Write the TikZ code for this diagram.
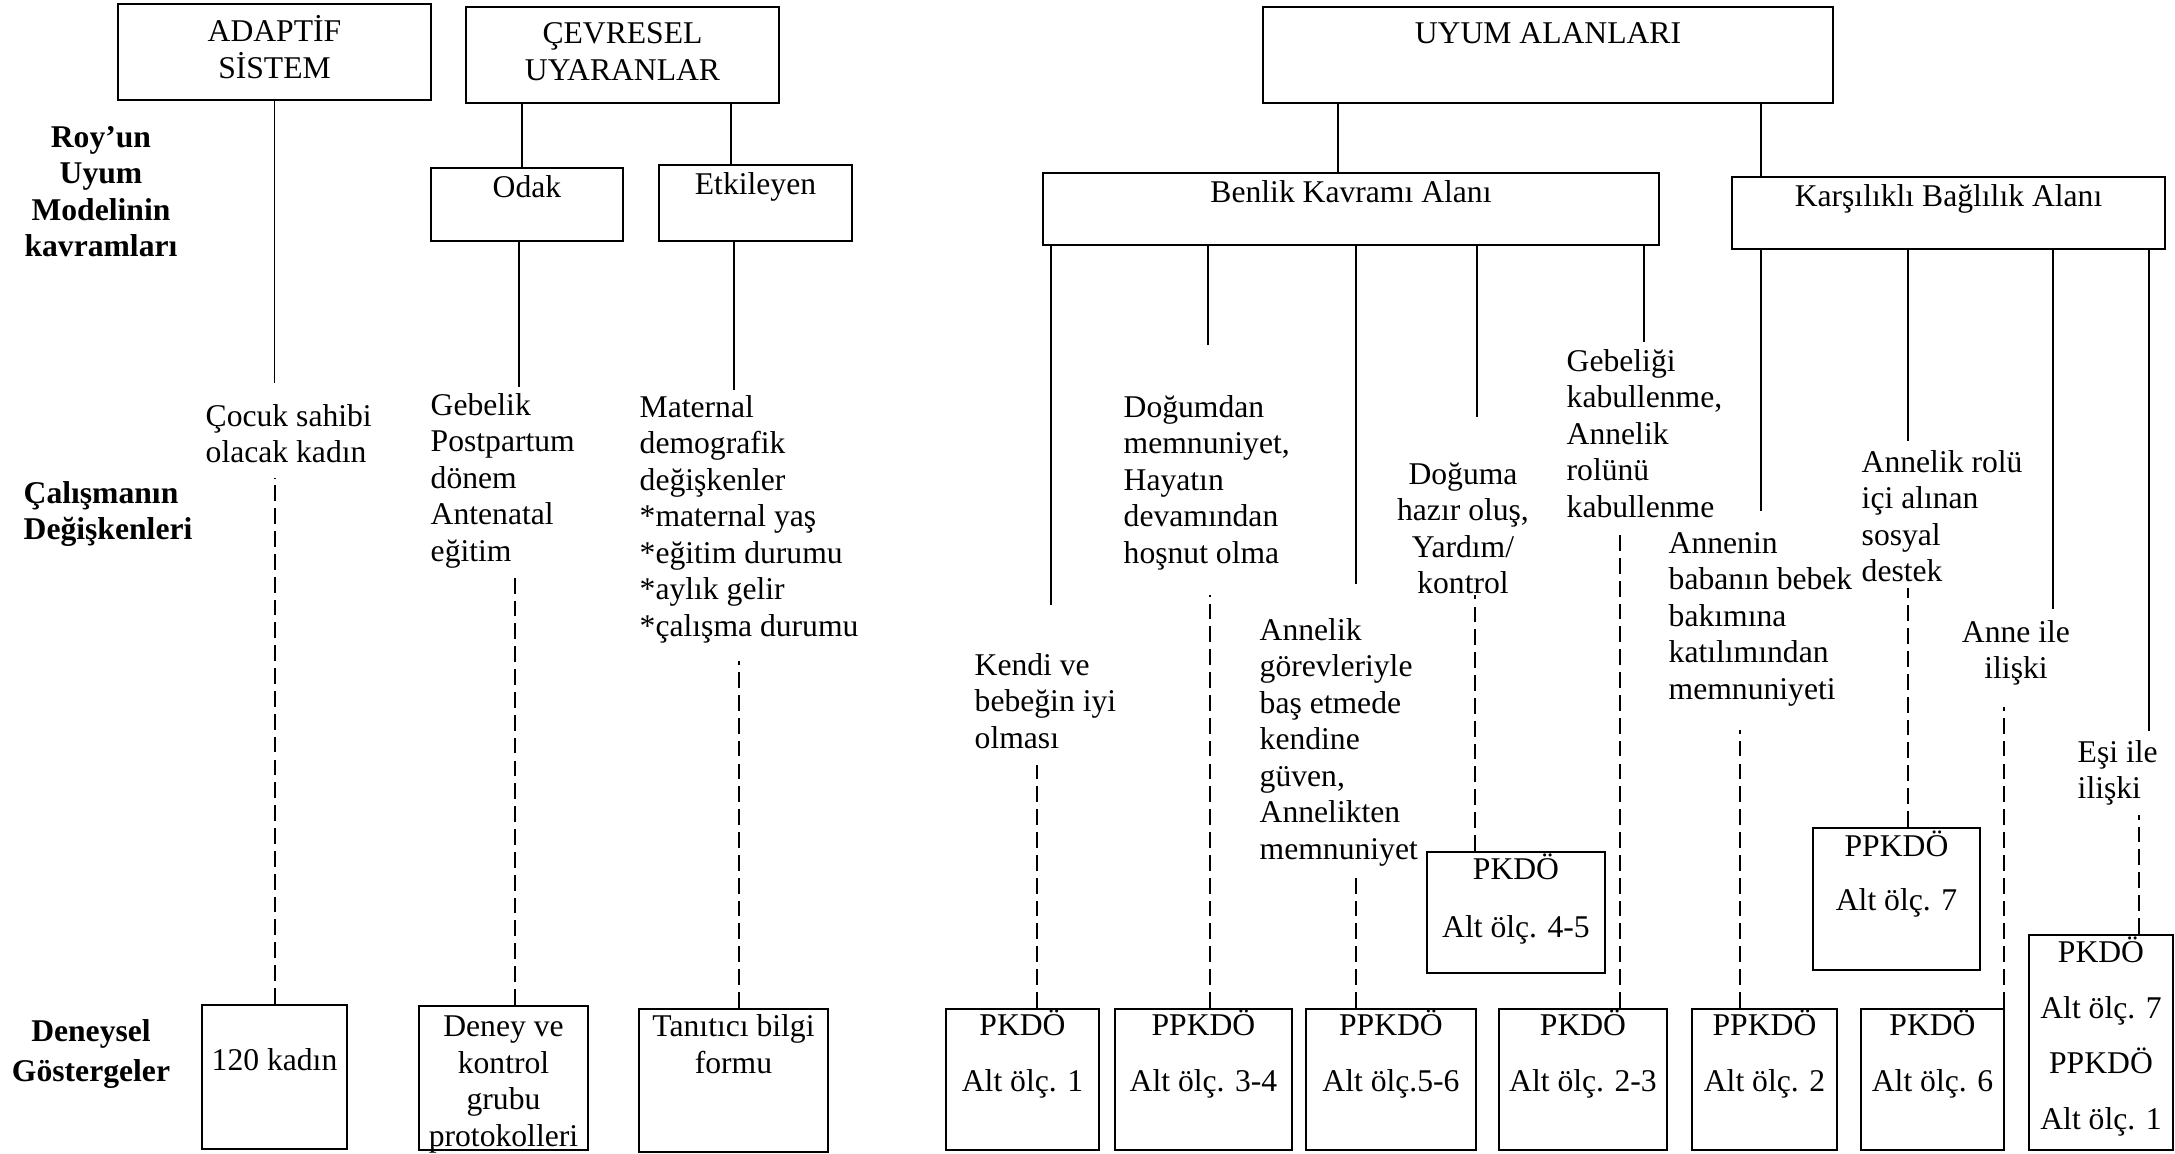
\documentclass[tikz,border=0pt]{standalone}
\usepackage{fontspec}
\setmainfont{Liberation Serif}
\usetikzlibrary{positioning}

\begin{document}
\begin{tikzpicture}[
  box/.style 2 args={draw, line width=0.7pt, inner sep=0pt, minimum width=#1, minimum height=#2},
  txt/.style={inner sep=0pt, align=left, anchor=base west, font=\fontsize{9}{10.4}\selectfont},
  ctxt/.style={txt, align=center, anchor=base},
  head/.style={ctxt, font=\fontsize{9}{10.4}\selectfont\bfseries},
  conn/.style={line width=0.5pt},
  dsh/.style={line width=0.5pt, dash pattern=on 4.5pt off 2pt},
]
\useasboundingbox (0,0) rectangle (21.75,-11.54);

% row titles (base = last line)
\node [head] (roy) at (1.01,-2.567) {Roy’un\\Uyum\\Modelinin\\kavramları};
\node [head, align=left, anchor=base west] (calisma) at (0.23,-5.396) {Çalışmanın\\Değişkenleri};
\node [head] (deneysel) at (0.91,-10.815) {Deneysel\\[1.1pt]Göstergeler};

% model concepts
\node [box={3.13cm}{0.96cm}] (adaptif) at (2.745,-0.52) {};
\node [ctxt] (adaptift) at ([yshift=-0.756cm]adaptif.north) {ADAPTİF\\SİSTEM};
\node [box={3.13cm}{0.96cm}] (cevresel) at (6.225,-0.55) {};
\node [ctxt] (cevreselt) at ([yshift=-0.746cm]cevresel.north) {ÇEVRESEL\\UYARANLAR};
\node [box={1.92cm}{0.73cm}] (odak) at (5.27,-2.045) {};
\node [ctxt] (odakt) at ([yshift=-0.31cm]odak.north) {Odak};
\node [box={1.93cm}{0.76cm}] (etkileyen) at (7.555,-2.03) {};
\node [ctxt] (etkileyent) at ([yshift=-0.31cm]etkileyen.north) {Etkileyen};
\node [box={5.70cm}{0.96cm}] (uyum) at (15.48,-0.55) {};
\node [ctxt] (uyumt) at ([yshift=-0.38cm]uyum.north) {UYUM ALANLARI};
\node [box={6.16cm}{0.72cm}] (benlik) at (13.51,-2.09) {};
\node [ctxt] (benlikt) at ([yshift=-0.31cm]benlik.north) {Benlik Kavramı Alanı};
\node [box={4.33cm}{0.72cm}] (karsilikli) at (19.485,-2.13) {};
\node [ctxt] (karsiliklit) at ([yshift=-0.31cm]karsilikli.north) {Karşılıklı Bağlılık Alanı};

% study variables
\node [txt] (cocuk) at (2.05,-4.626) {Çocuk sahibi\\olacak kadın};
\node [txt] (gebelik) at (4.30,-5.612) {Gebelik\\Postpartum\\dönem\\Antenatal\\eğitim};
\node [txt] (maternal) at (6.39,-6.363) {Maternal\\demografik\\değişkenler\\*maternal yaş\\*eğitim durumu\\*aylık gelir\\*çalışma durumu};
\node [txt] (kendi) at (9.74,-7.481) {Kendi ve\\bebeğin iyi\\olması};
\node [txt] (dogumdan) at (11.23,-5.632) {Doğumdan\\memnuniyet,\\Hayatın\\devamından\\hoşnut olma};
\node [txt] (gorev) at (12.59,-8.593) {Annelik\\görevleriyle\\baş etmede\\kendine\\güven,\\Annelikten\\memnuniyet};
\node [ctxt] (doguma) at (14.63,-5.937) {Doğuma\\hazır oluş,\\Yardım/\\kontrol};
\node [txt] (gebeligi) at (15.66,-5.172) {Gebeliği\\kabullenme,\\Annelik\\rolünü\\kabullenme};
\node [txt] (annenin) at (16.68,-6.992) {Annenin\\babanın bebek\\bakımına\\katılımından\\memnuniyeti};
\node [txt] (rol) at (18.61,-5.817) {Annelik rolü\\içi alınan\\sosyal\\destek};
\node [ctxt] (anne) at (20.16,-6.786) {Anne ile\\ilişki};
\node [txt] (esi) at (20.77,-7.986) {Eşi ile\\ilişki};

% indicators
\node [box={1.45cm}{1.44cm}] (kadin) at (2.745,-10.77) {};
\node [ctxt] (kadint) at ([yshift=-0.67cm]kadin.north) {120 kadın};
\node [box={1.69cm}{1.44cm}] (deney) at (5.035,-10.78) {};
\node [ctxt] (deneyt) at ([yshift=-1.417cm]deney.north) {Deney ve\\kontrol\\grubu\\protokolleri};
\node [box={1.89cm}{1.43cm}] (tanitici) at (7.335,-10.805) {};
\node [ctxt] (tanitict) at ([yshift=-0.656cm]tanitici.north) {Tanıtıcı bilgi\\formu};
\node [box={1.53cm}{1.41cm}] (olc1) at (10.225,-10.795) {};
\node [ctxt] (olc1t) at ([yshift=-0.839cm]olc1.north) {PKDÖ\\[5.5pt]Alt ölç. 1};
\node [box={1.77cm}{1.41cm}] (olc34) at (12.035,-10.795) {};
\node [ctxt] (olc34t) at ([yshift=-0.839cm]olc34.north) {PPKDÖ\\[5.5pt]Alt ölç. 3-4};
\node [box={1.70cm}{1.41cm}] (olc56) at (13.91,-10.795) {};
\node [ctxt] (olc56t) at ([yshift=-0.839cm]olc56.north) {PPKDÖ\\[5.5pt]Alt ölç.5-6};
\node [box={1.68cm}{1.41cm}] (olc23) at (15.83,-10.795) {};
\node [ctxt] (olc23t) at ([yshift=-0.839cm]olc23.north) {PKDÖ\\[5.5pt]Alt ölç. 2-3};
\node [box={1.45cm}{1.41cm}] (olc2) at (17.645,-10.795) {};
\node [ctxt] (olc2t) at ([yshift=-0.839cm]olc2.north) {PPKDÖ\\[5.5pt]Alt ölç. 2};
\node [box={1.43cm}{1.41cm}] (olc6) at (19.325,-10.795) {};
\node [ctxt] (olc6t) at ([yshift=-0.839cm]olc6.north) {PKDÖ\\[5.5pt]Alt ölç. 6};
\node [box={1.78cm}{1.21cm}] (olc45) at (15.16,-9.125) {};
\node [ctxt] (olc45t) at ([yshift=-0.870cm]olc45.north) {PKDÖ\\[6.1pt]Alt ölç. 4-5};
\node [box={1.67cm}{1.42cm}] (olc7) at (18.965,-8.99) {};
\node [ctxt] (olc7t) at ([yshift=-0.841cm]olc7.north) {PPKDÖ\\[5pt]Alt ölç. 7};
\node [box={1.44cm}{2.15cm}] (olc71) at (21.01,-10.425) {};
\node [ctxt] (olc71t) at ([yshift=-1.956cm]olc71.north) {PKDÖ\\[5.4pt]Alt ölç. 7\\[5.4pt]PPKDÖ\\[5.4pt]Alt ölç. 1};

% solid links
\draw [conn] (adaptif.south) -- ++(0,-2.82);
\draw [conn] (5.22,0 |- cevresel.south) -- (5.22,0 |- odak.north);
\draw [conn] (7.31,0 |- cevresel.south) -- (7.31,0 |- etkileyen.north);
\draw [conn] (5.19,0 |- odak.south) -- ++(0,-1.45);
\draw [conn] (7.34,0 |- etkileyen.south) -- ++(0,-1.48);
\draw [conn] (13.38,0 |- uyum.south) -- (13.38,0 |- benlik.north);
\draw [conn] (17.61,0 |- uyum.south) -- (17.61,0 |- karsilikli.north);
\draw [conn] (10.51,0 |- benlik.south) -- ++(0,-3.59);
\draw [conn] (12.08,0 |- benlik.south) -- ++(0,-0.99);
\draw [conn] (13.56,0 |- benlik.south) -- ++(0,-3.38);
\draw [conn] (14.77,0 |- benlik.south) -- ++(0,-1.71);
\draw [conn] (16.44,0 |- benlik.south) -- ++(0,-0.96);
\draw [conn] (17.61,0 |- karsilikli.south) -- ++(0,-2.61);
\draw [conn] (19.08,0 |- karsilikli.south) -- ++(0,-1.91);
\draw [conn] (20.53,0 |- karsilikli.south) -- ++(0,-3.59);
\draw [conn] (21.49,0 |- karsilikli.south) -- ++(0,-4.81);

% dashed links
\draw [dsh] (2.75,0 |- kadin.north) -- ++(0,5.26);
\draw [dsh] (5.15,0 |- deney.north) -- ++(0,4.33);
\draw [dsh] (7.39,0 |- tanitici.north) -- ++(0,3.47);
\draw [dsh] (10.37,0 |- olc1.north) -- ++(0,2.43);
\draw [dsh] (12.10,0 |- olc34.north) -- ++(0,4.13);
\draw [dsh] (13.56,0 |- olc56.north) -- ++(0,1.33);
\draw [dsh] (14.75,0 |- olc45.north) -- ++(0,2.56);
\draw [dsh] (16.20,0 |- olc23.north) -- ++(0,4.77);
\draw [dsh] (17.40,0 |- olc2.north) -- ++(0,2.78);
\draw [dsh] (19.08,0 |- olc7.north) -- ++(0,2.39);
\draw [dsh] (20.04,0 |- olc6.north) -- ++(0,3.01);
\draw [dsh] (21.39,0 |- olc71.north) -- ++(0,1.19);

\end{tikzpicture}
\end{document}
